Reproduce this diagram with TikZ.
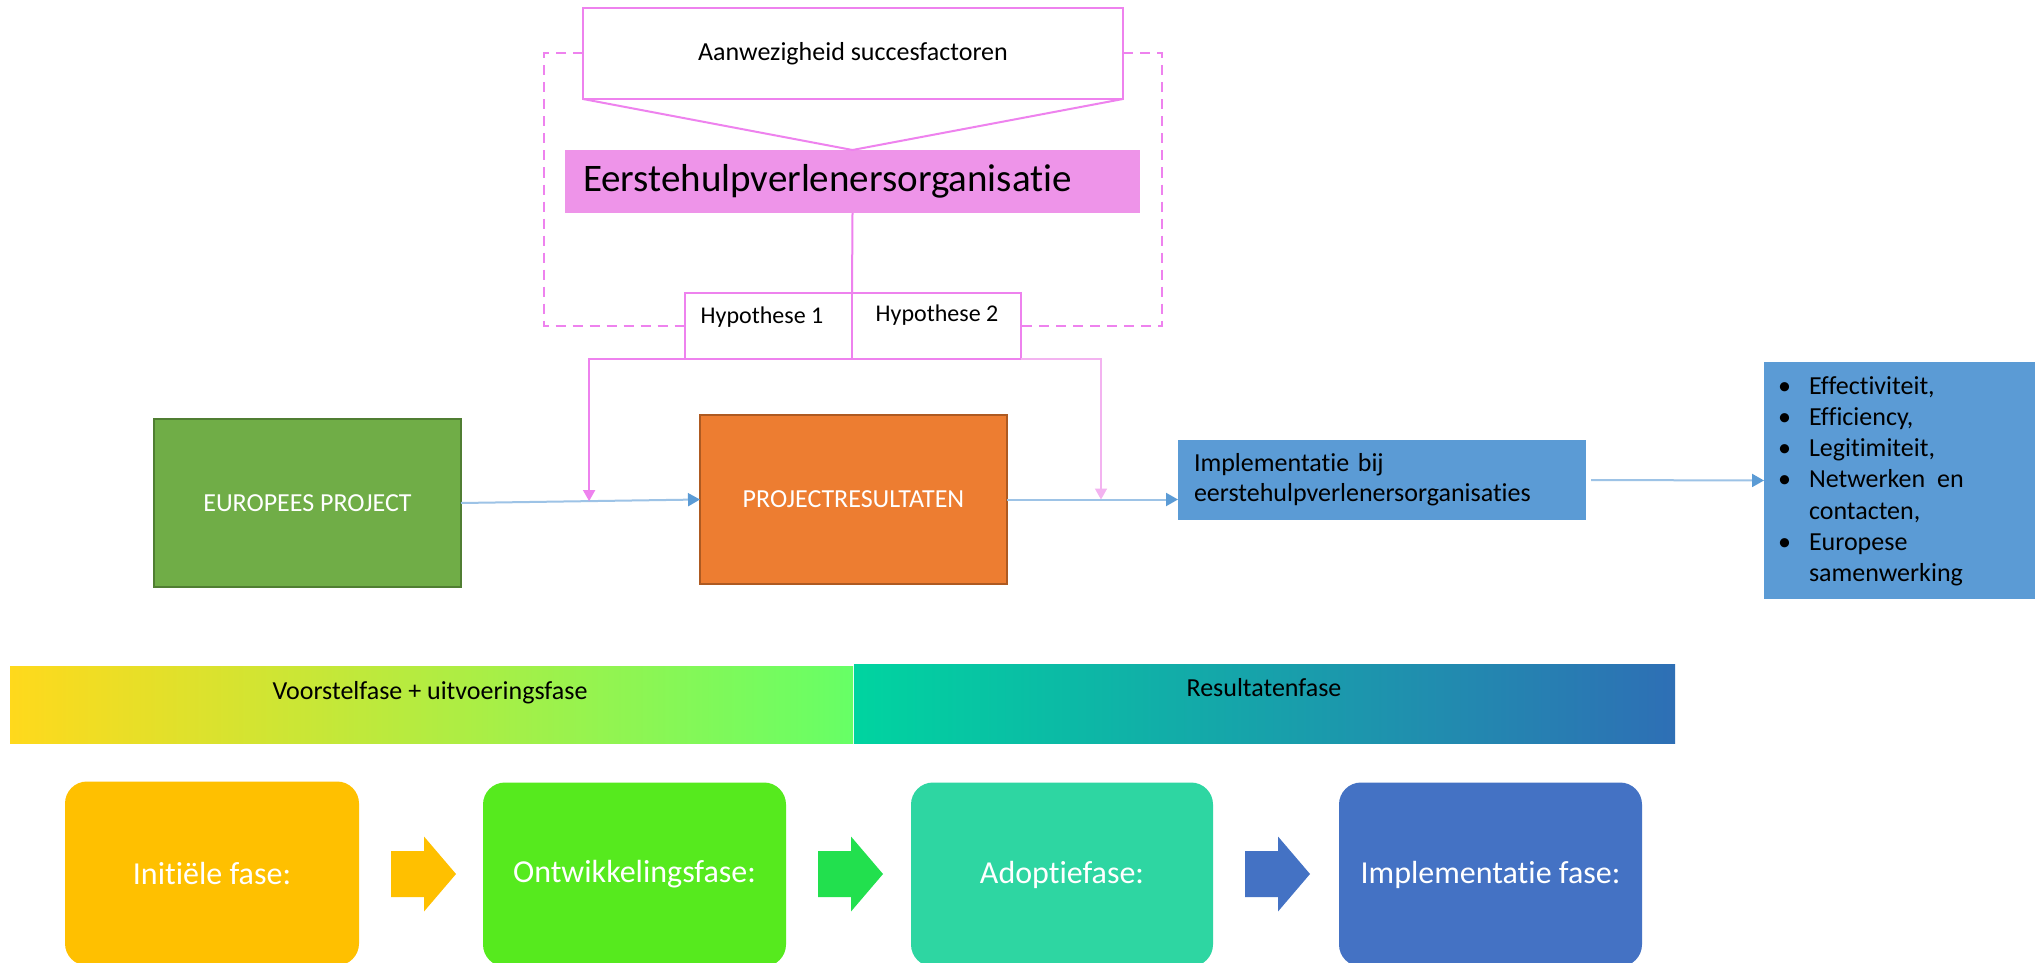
\documentclass[tikz,border=0pt]{standalone}
\usepackage{fontspec}
\setmainfont{Carlito}[Ligatures={NoCommon,NoRequired,NoContextual,NoRare},Contextuals={NoAlternate}]
\usetikzlibrary{arrows.meta,calc}

\definecolor{pinkln}{HTML}{EE82EE}
\definecolor{pinkfill}{HTML}{EE94E9}
\definecolor{pinklight}{HTML}{F3B3F0}
\definecolor{greenbox}{HTML}{70AD47}
\definecolor{greenbd}{HTML}{507E32}
\definecolor{orangebox}{HTML}{ED7D31}
\definecolor{orangebd}{HTML}{AE5A21}
\definecolor{bluebox}{HTML}{5B9BD5}
\definecolor{blueln}{HTML}{9DC3E6}
\definecolor{barYellow}{HTML}{FFD91C}
\definecolor{barGreen}{HTML}{66FF66}
\definecolor{barTeal}{HTML}{00D4A0}
\definecolor{barBlue}{HTML}{2E6FB5}
\definecolor{phaseA}{HTML}{FFC000}
\definecolor{phaseB}{HTML}{56EA1E}
\definecolor{phaseC}{HTML}{2ED6A2}
\definecolor{phaseD}{HTML}{4472C4}
\definecolor{chevB}{HTML}{22E04E}

\begin{document}
\begin{tikzpicture}[x=1pt,y=-1pt,
  every node/.style={inner sep=0pt,outer sep=0pt},
  fsmall/.style={font=\fontsize{24}{29}\selectfont},
  fmid/.style={font=\fontsize{26}{31}\selectfont},
  fbig/.style={font=\fontsize{39}{47}\selectfont},
  fphase/.style={font=\fontsize{32}{38}\selectfont},
  pinkedge/.style={draw=pinkln,line width=2pt},
  pinkdash/.style={draw=pinkln,line width=2pt,dash pattern=on 10pt off 7pt},
  hypbox/.style={draw=pinkln,line width=2pt,minimum height=66pt},
  pinkarrow/.style={line width=1.6pt,-{Triangle[length=11pt,width=12pt]}},
  bluearrow/.style={draw=blueln,line width=2pt,-{Triangle[length=12pt,width=13pt,color=bluebox]}},
  phasebox/.style={rounded corners=22pt,minimum height=184pt,text=white,fphase},
  chev/.pic={\fill[pic actions] (0,-23) -- (33,-23) -- (33,-37.5) -- (65,0)
                -- (33,37.5) -- (33,23) -- (0,23) -- cycle;}
]
\useasboundingbox[fill=white] (0,0) rectangle (2035,963);

% ---- organisation block with success factors and hypotheses
\node[pinkedge,minimum width=540pt,minimum height=91pt,fmid] (succes) at (853,53.5)
  {Aanwezigheid succesfactoren};
\node[fill=pinkfill,minimum width=575pt,minimum height=63pt,text width=539pt,align=left,fbig]
  (org) at (852.5,181.5) {Eerstehulpverlenersorganisatie};
\draw[pinkedge] (succes.south west) -- (org.north) -- (succes.south east);

\node[hypbox,minimum width=167pt] (h1) at (768.5,326) {};
\node[hypbox,minimum width=169pt] (h2) at (936.5,326) {};
\node[fsmall] (h1t) at (762,317) {Hypothese 1};
\node[fsmall] (h2t) at (937,315) {Hypothese 2};
\draw[pinkedge] (org.south) -- (h1.north east);

\draw[pinkdash] (succes.west) -- ++(-39,0) |- (h1.west);
\draw[pinkdash] (succes.east) -- ++(39,0) |- (h2.east);

% ---- main chain
\node[draw=greenbd,fill=greenbox,line width=2pt,minimum width=307pt,minimum height=168pt,
  text=white,fmid] (ep) at (307.5,503) {EUROPEES PROJECT};
\node[draw=orangebd,fill=orangebox,line width=2pt,minimum width=307pt,minimum height=169pt,
  text=white,fmid] (pr) at (853.5,499.5) {PROJECTRESULTATEN};
\node[fill=bluebox,minimum width=408pt,minimum height=80pt,text width=376pt,align=left,
  font=\fontsize{26}{30}\selectfont] (impl) at (1382,480)
  {Implementatie bij\\eerstehulpverlenersorganisaties};
\node[fill=bluebox,minimum width=271pt,minimum height=237pt] (lst) at (1899.5,480.5) {};
\node[anchor=base west,font=\fontsize{26}{31.3}\selectfont] (lsttxt) at (1778,394)
  {\begin{tabular}[t]{@{}l@{}}
   \makebox[31pt][l]{\textbullet}Effectiviteit,\\
   \makebox[31pt][l]{\textbullet}Efficiency,\\
   \makebox[31pt][l]{\textbullet}Legitimiteit,\\
   \makebox[31pt][l]{\textbullet}Netwerken \ en\\
   \hspace*{31pt}contacten,\\
   \makebox[31pt][l]{\textbullet}Europese\\
   \hspace*{31pt}samenwerking
   \end{tabular}};

\coordinate (m1) at ($(ep.east)!0.536!(pr.west)$);
\coordinate (m2) at (1101,499.5);

\draw[bluearrow] (ep.east) -- (pr.west);
\draw[bluearrow] (pr.east) -- (pr.east -| impl.west);
\draw[bluearrow,shorten <=5pt] (impl.east) -- (lst.west);

\draw[pinkarrow,draw=pinkln] (h1.south west) -| (m1);
\draw[pinkarrow,draw=pinklight] (h2.south east) -| (m2);

% ---- phase bars
\node[left color=barYellow,right color=barGreen,minimum width=843pt,minimum height=77pt]
  (bar1) at (431.5,704.5) {};
\node[left color=barTeal,right color=barBlue,minimum width=821pt,minimum height=79pt]
  (bar2) at (1264.5,703.5) {};
\node[fmid] (bar1t) at (430,693) {Voorstelfase + uitvoeringsfase};
\node[fmid] (bar2t) at (1264,688) {Resultatenfase};

% ---- phase boxes
\node[phasebox,fill=phaseA,minimum width=294pt] (f1) at (212,873.5) {Initiële fase:};
\node[phasebox,fill=phaseB,minimum width=303pt] (f2) at (634.5,874.5) {Ontwikkelingsfase:};
\node[phasebox,fill=phaseC,minimum width=302pt] (f3) at (1062,874.5) {Adoptiefase:};
\node[phasebox,fill=phaseD,minimum width=303pt] (f4) at (1490.5,874.5) {Implementatie fase:};

\pic[fill=phaseA] at (391,874) {chev};
\pic[fill=chevB] at (818,874) {chev};
\pic[fill=phaseD] at (1245,874) {chev};
\end{tikzpicture}
\end{document}
